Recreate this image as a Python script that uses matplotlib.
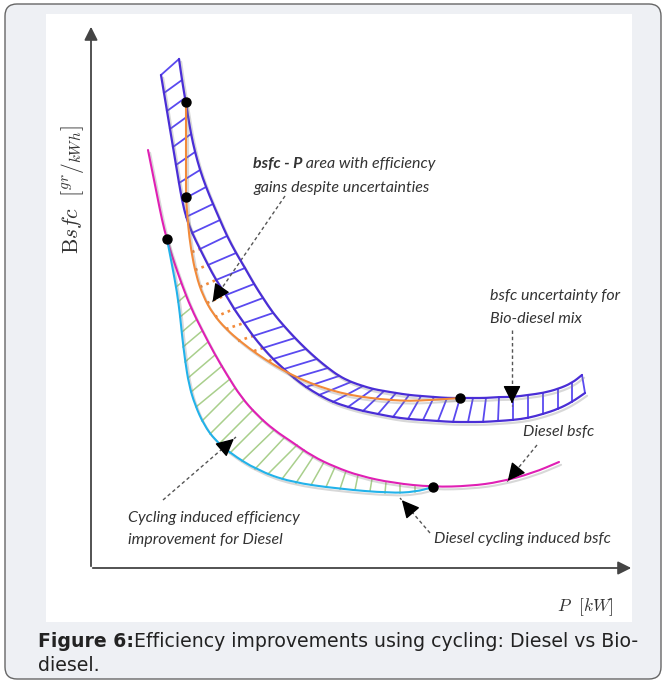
import numpy as np
import matplotlib.pyplot as plt
import matplotlib.patheffects as pe
from matplotlib.patches import FancyBboxPatch, Rectangle, PathPatch
from matplotlib.path import Path

# schematic, in picture units (x right, y down)

# bio-diesel uncertainty band: rung i joins lower edge point to upper edge point
bio_lo_x = [161, 164, 167, 170, 173, 176, 179, 182, 186, 192, 200, 208, 216, 226, 234, 244, 253, 263, 273, 284, 294,
            306, 319, 333, 348, 363, 378, 393, 408, 423, 438, 453, 468, 483, 498, 513, 528, 543, 558, 572, 585]
bio_lo_y = [75, 93, 111, 129, 147, 165, 183, 200, 217, 233, 249, 265, 280, 295, 309, 323, 336, 348, 359, 369, 378,
            387, 395, 402, 407, 411, 414, 417, 419, 420, 421, 422, 422, 422, 421, 420, 418, 414, 409, 402, 393]
bio_hi_x = [179, 182, 185, 188, 191, 195, 200, 206, 213, 220, 227, 236, 245, 254, 263, 273, 284, 295, 306, 317, 328,
            339, 351, 363, 373, 384, 396, 409, 421, 434, 447, 460, 473, 486, 499, 513, 528, 543, 558, 572, 582]
bio_hi_y = [59, 80, 98, 116, 134, 152, 170, 187, 204, 220, 236, 253, 268, 284, 298, 313, 326, 338, 349, 359, 368,
            376, 382, 386, 389, 391, 393, 395, 396, 397, 398, 398, 398, 398, 397, 397, 395, 393, 389, 383, 375]

# bio-diesel cycling curve (orange)
orange_x = [186, 186, 186, 188, 191, 196, 203, 213, 226, 241, 257, 274, 292, 310, 330, 350, 370, 390, 410, 430, 446, 460]
orange_y = [102, 190, 197, 225, 250, 275, 296, 314, 329, 342, 354, 365, 375, 383, 390, 395, 398, 400, 401, 400, 399, 398]
# dotted rows between orange curve and band
dot_x0 = [192, 195, 200, 207, 215, 226, 238, 254, 269]
dot_y0 = [252, 270, 287, 303, 317, 329, 341, 351, 361]
dot_x1 = [200, 208, 216, 226, 234, 244, 253, 263, 273]
dot_y1 = [249, 265, 280, 295, 309, 323, 336, 348, 359]

# diesel bsfc (magenta)
diesel_x = [148, 152, 157, 162, 167, 174, 182, 191, 202, 214, 227, 241, 257, 274, 292, 312, 335, 360, 393, 433,
            470, 500, 533, 559]
diesel_y = [150, 170, 195, 220, 240, 262, 285, 308, 330, 353, 375, 397, 415, 430, 442, 456, 467, 476, 483, 487,
            486, 482, 473, 462]

# diesel cycling induced bsfc (cyan)
cyc_x = [167, 172, 177, 180, 182, 185, 189, 195, 204, 215, 230, 257, 290, 340, 390, 415, 433]
cyc_y = [239, 265, 292, 315, 335, 360, 385, 405, 425, 440, 453, 470, 482, 489, 493, 492, 487]

# green hatch between cyan and magenta
grn_x0 = [176, 178, 180, 182, 183, 185, 188, 191, 196, 202, 210, 219, 230, 242, 255, 268, 282, 296, 311, 326,
          340, 355, 370, 385, 400, 415]
grn_y0 = [287, 302, 317, 332, 347, 362, 378, 392, 407, 421, 434, 444, 453, 461, 469, 474, 479, 483, 485, 487,
          489, 490, 491, 493, 493, 492]
grn_x1 = [181, 186, 191, 196, 202, 208, 215, 222, 230, 235, 244, 253, 263, 274, 284, 297, 304, 313, 324, 335,
          346, 358, 372, 386, 400, 415]
grn_y1 = [283, 295, 308, 320, 331, 342, 355, 366, 379, 388, 400, 410, 420, 430, 438, 445, 450, 457, 462, 467,
          471, 475, 479, 482, 484, 486]

marker_x = [186, 186, 167, 433, 460]
marker_y = [102, 197, 239, 487, 398]

purple = '#4a2ed6'
rung_c = '#5a4af0'
orange = '#f28a3a'
magenta = '#e01fb4'
cyan = '#22b2ea'
green = '#a9cf8c'
txt_c = '#333333'

plt.rcParams['mathtext.fontset'] = 'cm'

fig = plt.figure(figsize=(6.66, 6.84), dpi=100)
ax = fig.add_axes([0, 0, 1, 1])
ax.set_xlim(0, 666)
ax.set_ylim(684, 0)
ax.axis('off')

# frame
ax.add_patch(FancyBboxPatch((5, 4), 656, 675, boxstyle='round,pad=0,rounding_size=12',
                            fc='#eef0f4', ec='#666666', lw=1.0))
ax.add_patch(Rectangle((46, 14), 586, 608, fc='white', ec='none'))

shadow = [pe.SimpleLineShadow(offset=(1.5, -2), shadow_color='gray', alpha=0.3), pe.Normal()]


# smooth curve through the points (quadratic pieces between midpoints)
def curve(xs, ys, color, lw=1.5):
    pts = list(zip(xs, ys))
    verts = [pts[0]]
    codes = [Path.MOVETO]
    for i in range(1, len(pts) - 1):
        mid = ((pts[i][0] + pts[i + 1][0]) / 2, (pts[i][1] + pts[i + 1][1]) / 2)
        if i == 1:
            verts.append(((pts[0][0] + pts[1][0]) / 2, (pts[0][1] + pts[1][1]) / 2))
            codes.append(Path.LINETO)
        verts += [pts[i], mid]
        codes += [Path.CURVE3, Path.CURVE3]
    verts.append(pts[-1])
    codes.append(Path.LINETO)
    ax.add_patch(PathPatch(Path(verts, codes), fill=False, ec=color, lw=lw, path_effects=shadow,
                           capstyle='round', zorder=3))


# axes arrows
ax.annotate('', xy=(91, 24), xytext=(91, 569),
            arrowprops=dict(arrowstyle='-|>', color='#444444', lw=1.3, mutation_scale=20))
ax.annotate('', xy=(634, 568), xytext=(90, 568),
            arrowprops=dict(arrowstyle='-|>', color='#444444', lw=1.3, mutation_scale=20))

# green hatch
for i in range(len(grn_x0)):
    ax.plot([grn_x0[i], grn_x1[i]], [grn_y0[i], grn_y1[i]], color=green, lw=1.1)

# band rungs
for i in range(len(bio_lo_x)):
    ax.plot([bio_lo_x[i], bio_hi_x[i]], [bio_lo_y[i], bio_hi_y[i]], color=rung_c, lw=1.3)

# orange dotted rows
for i in range(len(dot_x0)):
    ax.plot([dot_x0[i], dot_x1[i]], [dot_y0[i], dot_y1[i]], color=orange, lw=1.9, ls=(0, (1, 1.6)))

curve(bio_lo_x, bio_lo_y, purple, 1.6)
curve(bio_hi_x, bio_hi_y, purple, 1.6)
curve(diesel_x, diesel_y, magenta)
curve(cyc_x, cyc_y, cyan)
curve(orange_x, orange_y, orange)
ax.scatter(marker_x, marker_y, s=42, color='black', zorder=5)

# dashed pointers
def pointer(x0, y0, x1, y1):
    ax.plot([x0, x1], [y0, y1], color='#555555', lw=1.0, ls=(0, (2.5, 2)))
    dx, dy = x1 - x0, y1 - y0
    n = np.hypot(dx, dy)
    ax.annotate('', xy=(x1, y1), xytext=(x1 - 8 * dx / n, y1 - 8 * dy / n),
                arrowprops=dict(arrowstyle='-|>,head_length=0.9,head_width=0.45', color='black',
                                lw=1.0, mutation_scale=12))

pointer(285, 196, 211, 304)
pointer(512, 330, 512, 406)
pointer(537, 445, 506, 483)
pointer(430, 533, 400, 498)
pointer(163, 500, 236, 437)

tfont = dict(family='Lato', style='italic', fontsize=11.5, color=txt_c)
t1 = ax.text(253, 168, 'bsfc - P', fontweight='bold', va='baseline', **tfont)
ax.annotate(' area with efficiency', xy=(1, 0), xycoords=t1, va='bottom', ha='left', **tfont)
ax.text(253, 192, 'gains despite uncertainties', va='baseline', **tfont)
ax.text(490, 300, 'bsfc uncertainty for', va='baseline', **tfont)
ax.text(490, 323, 'Bio-diesel mix', va='baseline', **tfont)
ax.text(523, 436, 'Diesel bsfc', va='baseline', **tfont)
ax.text(128, 522, 'Cycling induced efficiency', va='baseline', **tfont)
ax.text(128, 544, 'improvement for Diesel', va='baseline', **tfont)
ax.text(434, 543, 'Diesel cycling induced bsfc', va='baseline', **tfont)

ax.text(72, 190, r'$\mathrm{B}sfc\ \ \left[{}^{gr}/_{kWh}\right]$', rotation=90, ha='center', va='center',
        fontsize=15.5, color=txt_c)
ax.text(585, 607, r'$P\ \ [kW]$', ha='center', va='center', fontsize=12.5, color=txt_c)

cfont = dict(family='DejaVu Sans', fontsize=13.6, color='#222222')
c1 = ax.text(38, 647, 'Figure 6:', fontweight='bold', va='baseline', **cfont)
ax.annotate('Efficiency improvements using cycling: Diesel vs Bio-', xy=(1, 0), xycoords=c1,
            va='bottom', ha='left', **cfont)
ax.text(38, 671, 'diesel.', va='baseline', **cfont)

plt.savefig('out.png', dpi=100)
